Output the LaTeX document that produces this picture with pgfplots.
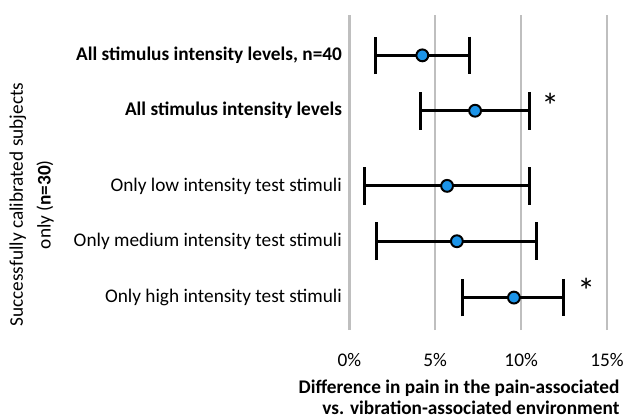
\documentclass[border=0pt]{standalone}
\usepackage{fontspec}
\setmainfont{Carlito}
\usepackage{pgfplots}
\pgfplotsset{compat=1.18}
\definecolor{ptc}{RGB}{28,148,232}
\definecolor{gridc}{RGB}{191,191,191}
\begin{document}
\begin{tikzpicture}[x=1bp,y=1bp]
\path (0,0) rectangle (627,419);
\begin{axis}[at={(353.3bp,85bp)}, anchor=south west, scale only axis,
  width=260.7bp, height=319bp,
  xmin=0, xmax=15, ymin=0, ymax=319,
  axis line style={draw=none},
  xtick={0,5,10,15}, xticklabels={0\%,5\%,10\%,15\%},
  ytick={33,90,146,222,278},
  yticklabels={Only high intensity test stimuli, Only medium intensity test stimuli, Only low intensity test stimuli, \textbf{All stimulus intensity levels}, \textbf{All stimulus intensity levels, n=40}},
  major tick length=0pt,
  xmajorgrids, major grid style={gridc, line width=2.5bp},
  tick label style={font=\fontsize{19.5bp}{21bp}\selectfont},
  xticklabel style={yshift=-20bp},
  yticklabel style={xshift=-4bp},
  clip=false,
]
\addplot[only marks, mark=*, mark options={fill=ptc, draw=black, line width=2bp}, mark size=6bp,
  error bars/.cd, x dir=both, x explicit, error mark=|,
  error bar style={line width=3bp, black},
  error mark options={mark size=19bp, line width=3bp, black}]
coordinates {
 (4.25,278) += (2.75,0) -= (2.72,0)
 (7.32,222) += (3.16,0) -= (3.18,0)
 (5.69,146) += (4.79,0) -= (4.79,0)
 (6.26,90)  += (4.62,0) -= (4.65,0)
 (9.58,33)  += (2.91,0) -= (2.99,0)
};
\node[font=\fontsize{36bp}{38bp}\selectfont] at (axis cs:11.70,227) {*};
\node[font=\fontsize{36bp}{38bp}\selectfont] at (axis cs:13.79,40) {*};
\end{axis}
\node[anchor=east, align=right, font=\bfseries\fontsize{19.5bp}{21bp}\selectfont] at (630,17)
  {Difference in pain in the pain-associated\\vs. vibration-associated environment};
\node[rotate=90, align=center, font=\fontsize{19.5bp}{28bp}\selectfont] at (32,212)
  {Successfully calibrated subjects\\only (\textbf{n=30})};
\end{tikzpicture}
\end{document}
